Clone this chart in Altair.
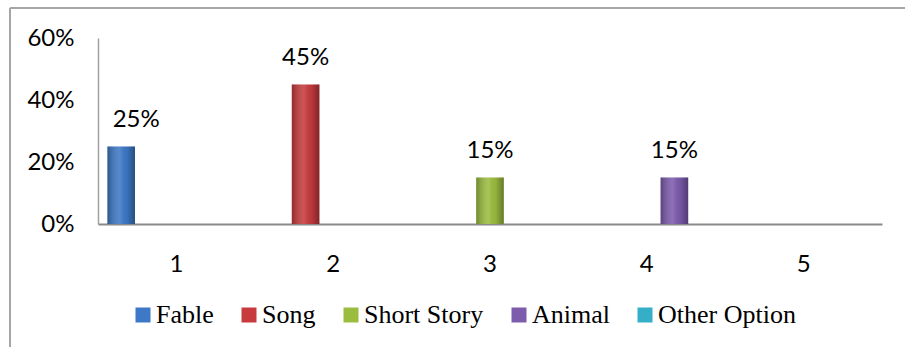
import altair as alt
import pandas as pd

# Survey results: each answer option sits in its own category slot
categories = ["1", "2", "3", "4", "5"]
series = ["Fable", "Song", "Short Story", "Animal", "Other Option"]
values = [0.25, 0.45, 0.15, 0.15, 0.0]
colors = ["#3D79C6", "#C73B3D", "#9BBD3F", "#7D5BAD", "#35AEC8"]

df = pd.DataFrame({"cat": categories, "series": series, "value": values})

W, H = 784, 186
SANS = "Lato"
SERIF = "Liberation Serif"

x_enc = alt.X("cat:N", sort=categories,
              scale=alt.Scale(paddingInner=0.12, paddingOuter=0.06),
              axis=alt.Axis(title=None, labelAngle=0, ticks=False, labelPadding=28,
                            labelFont=SANS, labelFontSize=24, labelColor="#000000",
                            domainColor="#8A8A8A", domainWidth=2))
xo_enc = alt.XOffset("series:N", sort=series, scale=alt.Scale(domain=series, paddingInner=0, paddingOuter=0))
y_enc = alt.Y("value:Q", scale=alt.Scale(domain=[0, 0.6]),
              axis=alt.Axis(title=None, values=[0, 0.2, 0.4, 0.6], format=".0%", ticks=False,
                            labelFont=SANS, labelFontSize=24, labelColor="#000000",
                            grid=False, labelPadding=24, domainColor="#A0A0A0", domainWidth=1.5))

bars = alt.Chart(df).mark_bar().encode(
    x=x_enc, xOffset=xo_enc, y=y_enc,
    color=alt.Color("series:N", sort=series,
                    scale=alt.Scale(domain=series, range=colors),
                    legend=alt.Legend(title=None, orient="none", direction="horizontal",
                                      legendX=32, legendY=264, labelFont=SERIF,
                                      labelFontSize=26, labelColor="#000000", labelOffset=0,
                                      symbolType="square", symbolSize=225, symbolStrokeWidth=0,
                                      columnPadding=22, labelLimit=300)),
)

# Cylinder-like shading laid over each bar
shade = alt.Gradient(
    gradient="linear", x1=0, x2=1, y1=0, y2=0,
    stops=[alt.GradientStop(color="rgba(0,0,0,0.28)", offset=0),
           alt.GradientStop(color="rgba(255,255,255,0.12)", offset=0.45),
           alt.GradientStop(color="rgba(0,0,0,0.05)", offset=0.7),
           alt.GradientStop(color="rgba(0,0,0,0.35)", offset=1)])
gloss = alt.Chart(df).mark_bar(fill=shade).encode(x=x_enc, xOffset=xo_enc, y=y_enc)

# Value labels; the first one is nudged clear of the value axis
label_base = alt.Chart(df).encode(
    x=x_enc, xOffset=xo_enc, y=y_enc, text=alt.Text("value:Q", format=".0%"))
labels_first = label_base.transform_filter("datum.series == 'Fable' && datum.value > 0").mark_text(
    baseline="bottom", dy=-15, dx=15, font=SANS, fontSize=24, color="#000000")
labels_rest = label_base.transform_filter("datum.series != 'Fable' && datum.value > 0").mark_text(
    baseline="bottom", dy=-15, font=SANS, fontSize=24, color="#000000")

# Outer frame of the chart box
frame_left = alt.Chart(df).mark_rule(color="#A6A6A6", strokeWidth=1.5).encode(
    x=alt.value(-88), y=alt.value(-30), y2=alt.value(330))
frame_top = alt.Chart(df).mark_rule(color="#A6A6A6", strokeWidth=1.5).encode(
    x=alt.value(-88), x2=alt.value(840), y=alt.value(-30))

chart = alt.layer(frame_left, frame_top, bars, gloss, labels_first, labels_rest).properties(
    width=W, height=H,
    autosize=alt.AutoSizeParams(type="none"),
    padding={"left": 98, "top": 38, "right": 23, "bottom": 123},
    background="white",
).configure_view(
    stroke=None
)

chart.save("out.html", embed_options={"renderer": "svg", "actions": False})
